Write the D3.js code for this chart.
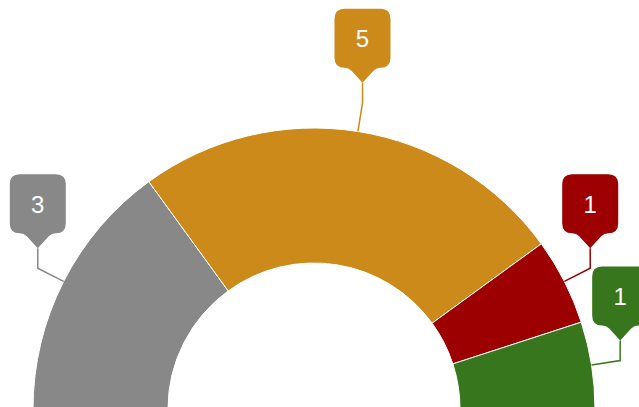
<!DOCTYPE html>
<html>
<head>
<meta charset="utf-8">
<script src="https://cdn.jsdelivr.net/npm/d3@7"></script>
<style>
  html, body { margin: 0; padding: 0; background: #fff; }
  svg { display: block; }
</style>
</head>
<body>
<div id="viz"></div>
<script>
"use strict";

const w = 639;
const h = 407;

// data
const categories = ["Grey", "Amber", "Red", "Green"];
const values = [3, 5, 1, 1];
const colors = ["#888888", "#CC8A1A", "#9C0000", "#38761D"];

const cx = 314;
const cy = 409;
const outerR = 281;
const innerR = 146;

const svg = d3.select("#viz")
  .append("svg")
  .attr("width", w)
  .attr("height", h)

const slices = categories.map((c, i) => ({ name: c, value: values[i], color: colors[i] }))

const pie = d3.pie()
  .value(d => d.value)
  .sort(null)
  .startAngle(-Math.PI / 2)
  .endAngle(Math.PI / 2)

const arc = d3.arc()
  .innerRadius(innerR)
  .outerRadius(outerR)

const arcs = pie(slices)

const g = svg.append("g")
  .attr("transform", `translate(${cx},${cy})`)

g.selectAll("path.slice")
  .data(arcs)
  .enter()
  .append("path")
  .attr("class", "slice")
  .attr("d", arc)
  .attr("fill", d => d.data.color)
  .attr("stroke", "#fff")
  .attr("stroke-width", 1)
  .attr("stroke-linejoin", "round")

// callout labels
const boxW = 56;
const boxH = 59;
const rad = 10;
const ptrH = 15;
const ptrW = 14;
const stem = 20;

function callout(tx, ty) {
  // pointer tip at (tx, ty), box sits above it
  const x0 = tx - boxW / 2, x1 = tx + boxW / 2;
  const y1 = ty - ptrH, y0 = y1 - boxH;
  return [
    "M", x0 + rad, y0,
    "L", x1 - rad, y0,
    "Q", x1, y0, x1, y0 + rad,
    "L", x1, y1 - rad,
    "Q", x1, y1, x1 - rad, y1,
    "Q", tx + ptrW, y1, tx + ptrW - 3, y1 + 3,
    "L", tx, ty,
    "L", tx - ptrW + 3, y1 + 3,
    "Q", tx - ptrW, y1, x0 + rad, y1,
    "Q", x0, y1, x0, y1 - rad,
    "L", x0, y0 + rad,
    "Q", x0, y0, x0 + rad, y0,
    "Z"
  ].join(" ")
}

arcs.forEach(d => {
  const a = (d.startAngle + d.endAngle) / 2
  const p0 = [cx + outerR * Math.sin(a), cy - outerR * Math.cos(a)]
  const p1 = [cx + (outerR + 29) * Math.sin(a), cy - (outerR + 29) * Math.cos(a)]
  const tip = [p1[0], p1[1] - stem]

  svg.append("path")
    .attr("d", `M${p0[0]},${p0[1]} L${p1[0]},${p1[1]} L${tip[0]},${tip[1]}`)
    .attr("fill", "none")
    .attr("stroke", d.data.color)
    .attr("stroke-width", 1.5)

  svg.append("path")
    .attr("d", callout(tip[0], tip[1]))
    .attr("fill", d.data.color)

  svg.append("text")
    .attr("x", tip[0])
    .attr("y", tip[1] - ptrH - boxH / 2 + 9)
    .attr("text-anchor", "middle")
    .attr("font-family", "'Liberation Sans', Arial, sans-serif")
    .attr("font-size", 24)
    .attr("fill", "#fff")
    .text(d.data.value)
})
</script>
</body>
</html>
